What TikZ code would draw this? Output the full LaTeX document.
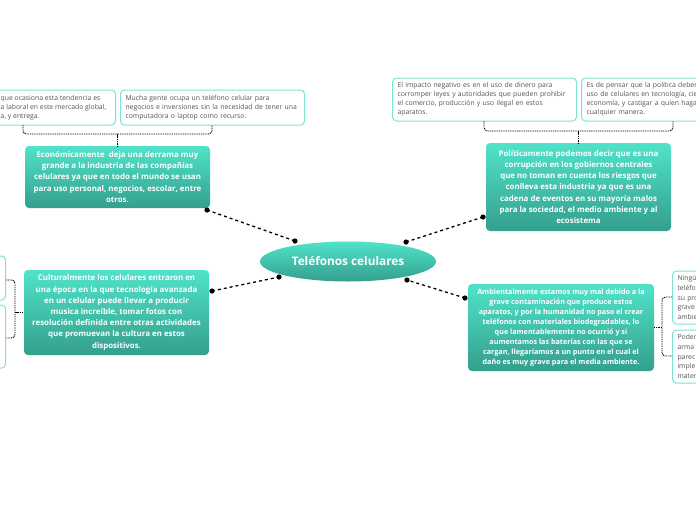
\documentclass[tikz,border=0pt]{standalone}
\usepackage{fontspec}
\setmainfont{Open Sans}
\definecolor{tealtop}{HTML}{50E3C9}
\definecolor{tealbot}{HTML}{349F8D}
\definecolor{noteborder}{HTML}{7FE3D3}
\definecolor{notetext}{HTML}{555555}
\tikzset{
  topic/.style={rectangle, rounded corners=4pt, top color=tealtop, bottom color=tealbot,
    draw=none, text=white, font=\bfseries\fontsize{7.9}{11.2}\selectfont, align=center, inner sep=0pt},
  central/.style={ellipse, top color=tealtop, bottom color=tealbot, draw=none, text=white,
    font=\bfseries\fontsize{11.8}{13}\selectfont, inner sep=0pt, minimum width=176pt, minimum height=40pt},
  note/.style={rectangle, rounded corners=4pt, draw=noteborder, line width=1pt, fill=white,
    text=notetext, font=\fontsize{6.85}{9}\selectfont, align=left, anchor=west, inner ysep=0pt},
  notetxt/.style={text=notetext, font=\fontsize{6.85}{9}\selectfont, align=left, anchor=west, inner sep=0pt},
  conn/.style={line width=1.3pt, dash pattern=on 3pt off 3pt},
  brk/.style={line width=0.9pt, dash pattern=on 1pt off 0.8pt, rounded corners=3.5pt},
  tick/.style={line width=1.3pt, dash pattern=on 1.5pt off 0.8pt},
}
\usetikzlibrary{shapes.geometric}
\begin{document}
\begin{tikzpicture}[x=1pt,y=-1pt]
\useasboundingbox (0,0) rectangle (696,520);
\clip (0,0) rectangle (696,520);
\fill[white] (0,0) rectangle (696,520);

% central
\node[central] (center) at (348,261.5) {Teléfonos celulares};

% main topics
\node[topic, minimum width=185pt, minimum height=62pt] (econ) at (117.5,177)
 {Económicamente\ \ deja una derrama muy\\grande a la industria de las compañías\\celulares ya que en todo el mundo se usan\\para uso personal, negocios, escolar, entre\\otros.};
\node[topic, minimum width=185pt, minimum height=88pt] (poli) at (578.5,187)
 {Políticamente podemos decir que es una\\corrupción en los gobiernos centrales\\que no toman en cuenta los riesgos que\\conlleva esta industria ya que es una\\cadena de eventos en su mayoría malos\\para la sociedad, el medio ambiente y al\\ecosistema};
\node[topic, minimum width=185pt, minimum height=85pt] (cult) at (116.5,312.5)
 {Culturalmente los celulares entraron en\\una época en la que tecnología avanzada\\en un celular puede llevar a producir\\musica increíble, tomar fotos con\\resolución definida entre otras actividades\\que promuevan la cultura en estos\\dispositivos.};
\node[topic, font=\bfseries\fontsize{7.2}{10.1}\selectfont, minimum width=186pt, minimum height=87pt] (amb) at (561,327.5)
 {Ambientalmente estamos muy mal debido a la\\grave contaminación que produce estos\\aparatos, y por la humanidad no paso el crear\\teléfonos con materiales biodegradables, lo\\que lamentablemente no ocurrió y si\\aumentamos las baterías con las que se\\cargan, llegaríamos a un punto en el cual el\\daño es muy grave para el media ambiente.};

% notes
\node[note, minimum width=125pt, minimum height=35pt] (nA) at (-10,107.5) {};
\node[notetxt] (nAt) at (0.5,107.5)
 {que ocasiona esta tendencia es\\a laboral en este mercado global,\\a, y entrega.};
\node[note, inner xsep=5pt, text width=174pt, minimum height=35pt] (nB) at (120,107.5)
 {Mucha gente ocupa un teléfono celular para\\negocios e inversiones sin la necesidad de tener una\\computadora o laptop como recurso.};
\node[note, inner xsep=5pt, text width=174pt, minimum height=43pt] (nC) at (392,99.5)
 {El impacto negativo es en el uso de dinero para\\corromper leyes y autoridades que pueden prohibir\\el comercio, producción y uso ilegal en estos\\aparatos.};
\node[note, inner xsep=5pt, text width=130pt, minimum height=43pt] (nD) at (581,99.5)
 {Es de pensar que la política deber\\uso de celulares en tecnología, cie\\economía, y castigar a quien haga\\cualquier manera.};
\node[note, minimum width=20pt, minimum height=44pt] (nL1) at (-15,278) {};
\node[note, minimum width=20pt, minimum height=63pt] (nL2) at (-15,336.5) {};
\node[note, font=\fontsize{6.85}{9.6}\selectfont, inner xsep=5pt, text width=40pt, minimum height=53pt] (nR1) at (672,297.5)
 {Ningú\\teléfo\\su pro\\grave\\ambie};
\node[note, font=\fontsize{6.85}{9.6}\selectfont, inner xsep=5pt, text width=40pt, minimum height=53pt] (nR2) at (672,356.5)
 {Poder\\arma\\parec\\imple\\mater};

% connectors
\coordinate (a1) at (207,210); \coordinate (a2) at (295,241);
\coordinate (b1) at (483,217); \coordinate (b2) at (406,242);
\coordinate (c1) at (212,291); \coordinate (c2) at (279,277);
\coordinate (d1) at (465,298); \coordinate (d2) at (407,280);
\foreach \p/\q in {a1/a2,b1/b2,c1/c2,d1/d2}{
  \draw[conn] (\p) -- (\q);
  \fill (\p) circle (2.6);
  \fill (\q) circle (2.6);
}

% brackets
\draw[brk] (23,125) |- (212,134) -- (212,125);
\coordinate (tA) at (117.5,134);
\draw[tick] (tA) -- (econ.north);
\draw[brk] (484,121) |- (673,131) -- (673,121);
\coordinate (tB) at (578.5,131);
\draw[tick] (tB) -- (poli.north);
\draw[brk] (6,280) -| (15,312.5) |- (6,338);
\coordinate (tC) at (15,312.5);
\draw[tick] (tC) -- (cult.west);
\draw[brk] (672,297) -| (662,327.5) |- (672,356);
\coordinate (tD) at (662,327.5);
\draw[tick] (tD) -- (amb.east);
\end{tikzpicture}
\end{document}
